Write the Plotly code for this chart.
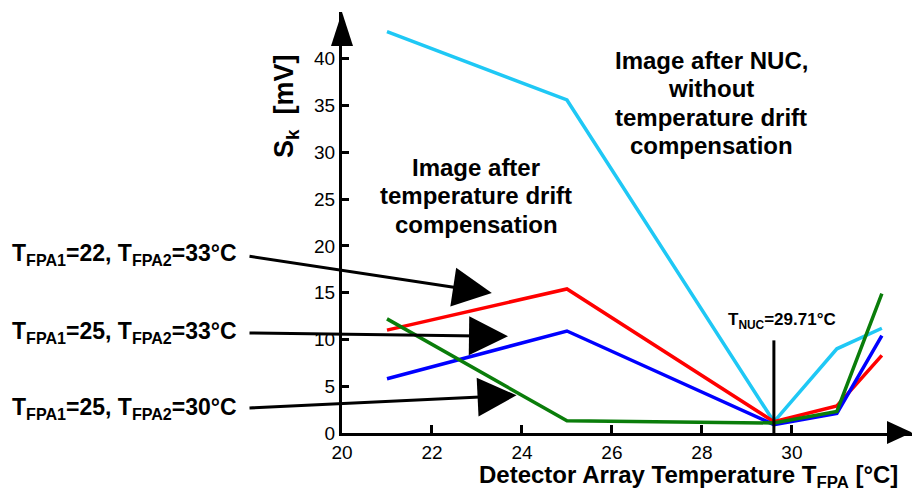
import plotly.graph_objects as go

# ---- data ----
temps = [21, 25, 29.6, 31, 32]
s_no_comp = [42.9, 35.6, 1.2, 9.0, 11.2]          # cyan: after NUC, no drift compensation
s_22_33 = [11.0, 15.4, 1.2, 2.9, 8.3]             # red
s_25_33 = [5.8, 10.9, 0.9, 2.1, 10.4]             # blue
s_25_30 = [12.2, 1.3, 1.07, 2.3, 14.9]            # green
series_names = ["no compensation", "TFPA1=22, TFPA2=33", "TFPA1=25, TFPA2=33", "TFPA1=25, TFPA2=30"]
series_colors = ["#1FC8F5", "#FF0000", "#0000FF", "#0A7D0A"]
x_ticks = [20, 22, 24, 26, 28, 30]
y_ticks = [0, 5, 10, 15, 20, 25, 30, 35, 40]
t_nuc = 29.6
label_texts = [
    "T<sub>FPA1</sub>=22, T<sub>FPA2</sub>=33°C",
    "T<sub>FPA1</sub>=25, T<sub>FPA2</sub>=33°C",
    "T<sub>FPA1</sub>=25, T<sub>FPA2</sub>=30°C",
]
arrow_tips = [(23.33, 14.97), (23.69, 10.34), (23.88, 4.03)]
nuc_lines = ["Image after NUC,", "without", "temperature drift", "compensation"]
comp_lines = ["Image after", "temperature drift", "compensation"]

FONT = "Arial, Liberation Sans, sans-serif"
W, H = 912, 490
L, R, T, B = 342, 0, 12, 57
XR = [20, 32.67]
YR = [0, 45]

fig = go.Figure()
for vals, name, col in zip([s_no_comp, s_22_33, s_25_33, s_25_30], series_names, series_colors):
    fig.add_trace(go.Scatter(x=temps, y=vals, mode="lines", name=name,
                             line=dict(color=col, width=3.5), showlegend=False))

pw = W - L - R
ph = H - T - B

def px2paper(px, py):
    return (px - L) / pw, (H - B - py) / ph

def text_at(px, py, txt, size, **kw):
    p = px2paper(px, py)
    fig.add_annotation(x=p[0], y=p[1], xref="paper", yref="paper", showarrow=False,
                       text=txt, xanchor=kw.pop("xanchor", "center"), yanchor="middle",
                       font=dict(family=FONT, size=size, color="black"), **kw)

# axis arrowheads
ax_tip = px2paper(342, 12)
ax_bl = px2paper(331, 46)
ax_br = px2paper(353, 46)
fig.add_shape(type="path", xref="paper", yref="paper",
              path=f"M {ax_tip[0]} {ax_tip[1]} L {ax_bl[0]} {ax_bl[1]} L {ax_br[0]} {ax_br[1]} Z",
              fillcolor="black", line=dict(color="black", width=0))
xt = px2paper(912, 432.5)
xa = px2paper(887, 421)
xb = px2paper(887, 444)
fig.add_shape(type="path", xref="paper", yref="paper",
              path=f"M {xt[0]} {xt[1]} L {xa[0]} {xa[1]} L {xb[0]} {xb[1]} Z",
              fillcolor="black", line=dict(color="black", width=0))

# T_NUC vertical marker
fig.add_shape(type="line", xref="x", yref="y", x0=t_nuc, x1=t_nuc, y0=-0.6, y1=9.9,
              line=dict(color="black", width=3))
text_at(782, 321, "<b>T<sub>NUC</sub>=29.71°C</b>", 17)

# left labels
label_y = [255, 332, 408]
for txt, ly in zip(label_texts, label_y):
    text_at(10, ly, f"<b>{txt}</b>", 23, xanchor="left")

# arrows
tails = [(248, 256), (248, 333), (248, 408)]
for (tx, ty), (sx, sy) in zip(arrow_tips, tails):
    hx = L + (tx - XR[0]) / (XR[1] - XR[0]) * pw
    hy = H - B - (ty - YR[0]) / (YR[1] - YR[0]) * ph
    fig.add_annotation(x=tx, y=ty, xref="x", yref="y", text="", showarrow=True,
                       ax=sx - hx, ay=sy - hy, arrowhead=2, arrowsize=2.6,
                       arrowwidth=3, arrowcolor="black", standoff=0)

# text blocks (one line each for tight line spacing)
for i, ln in enumerate(nuc_lines):
    text_at(711, 60 + 28.5 * i, f"<b>{ln}</b>", 24)
for i, ln in enumerate(comp_lines):
    text_at(476, 167 + 28.5 * i, f"<b>{ln}</b>", 24)

# axis titles
text_at(688, 477, "<b>Detector Array Temperature T<sub>FPA</sub> [°C]</b>", 24)
text_at(286, 106, "<b>S<sub>k</sub>  [mV]</b>", 27, textangle=-90)

fig.update_layout(
    width=W, height=H, margin=dict(l=L, r=R, t=T, b=B, autoexpand=False),
    plot_bgcolor="white", paper_bgcolor="white",
    xaxis=dict(range=XR, tickvals=x_ticks, showgrid=False, zeroline=False,
               showline=True, linecolor="black", linewidth=3,
               ticks="inside", ticklen=8, tickwidth=3, tickcolor="black",
               tickfont=dict(family=FONT, size=19, color="black")),
    yaxis=dict(range=YR, tickvals=y_ticks, showgrid=False, zeroline=False,
               showline=True, linecolor="black", linewidth=3,
               ticks="inside", ticklen=7, tickwidth=3, tickcolor="black",
               tickfont=dict(family=FONT, size=19, color="black")),
)
fig.write_html("out.html", config={"displayModeBar": False},
               post_script="document.body.style.margin='0';document.body.style.overflow='hidden';")
